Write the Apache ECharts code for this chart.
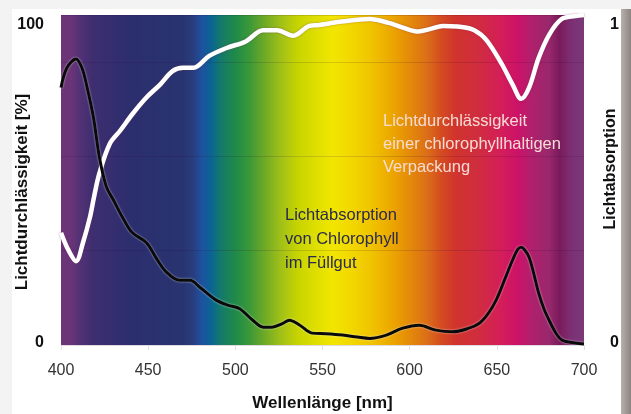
<!DOCTYPE html>
<html>
<head>
<meta charset="utf-8">
<script src="https://cdn.jsdelivr.net/npm/echarts@6/dist/echarts.min.js"></script>
<style>
  html, body { margin: 0; padding: 0; background: #f3f3f3; }
  #chart { width: 631px; height: 414px; }
</style>
</head>
<body>
<div id="chart"></div>
<script>
// Lichtdurchlässigkeit der Verpackung [%]
const transWl = [400, 404, 408.6, 412.6, 416.6, 419, 422, 428, 434, 441, 449, 457, 464, 470, 476, 485, 495, 506, 516, 524, 533, 542.5, 548, 561, 577, 588, 597, 605, 612, 619, 634, 641, 646, 653, 659, 664, 668.5, 674, 680, 687, 695, 700]
const transVal = [34, 29, 25.4, 31, 38.7, 45, 52, 61, 65, 70, 75, 79, 83, 84, 84, 87.6, 90, 92, 95.4, 95.4, 93.7, 96.7, 97, 98, 98.8, 97.6, 96, 95, 95.8, 96.7, 96, 94, 91, 85, 79, 74.6, 78, 87, 94, 98.7, 99.7, 100]

// Lichtabsorption von Chlorophyll (0..1)
const absWl = [400, 403.4, 408.6, 412, 415, 418.6, 422, 426, 430, 436, 441, 449, 455, 460.6, 468, 474, 479.6, 489, 496, 502.5, 510, 516, 521, 527, 531, 537, 544, 552, 561.5, 570, 577, 586.6, 596, 605.5, 615, 624.5, 634, 640, 645, 649.6, 655, 659, 662, 664, 666, 668.5, 671, 674, 677, 680, 684, 687.4, 695, 700]
const absVal = [0.78, 0.84, 0.867, 0.84, 0.78, 0.69, 0.57, 0.48, 0.44, 0.38, 0.34, 0.31, 0.26, 0.22, 0.196, 0.196, 0.175, 0.136, 0.12, 0.11, 0.075, 0.054, 0.054, 0.065, 0.075, 0.06, 0.036, 0.034, 0.03, 0.024, 0.02, 0.03, 0.051, 0.06, 0.045, 0.04, 0.051, 0.066, 0.095, 0.136, 0.205, 0.257, 0.29, 0.296, 0.288, 0.266, 0.22, 0.157, 0.11, 0.075, 0.035, 0.015, 0.006, 0.003]

const xTicks = [400, 450, 500, 550, 600, 650, 700]

// spectrum behind the plot
const specWl = [400, 406, 410, 418, 440, 470, 476, 481, 486, 492, 500, 508, 516, 526, 536, 546, 556, 566, 578, 590, 600, 610, 618, 626, 640, 652, 662, 670, 680, 686, 692, 700]
const specColor = ['#6e3478', '#6a3478', '#553276', '#3e2e70', '#2c2e6e', '#283470', '#283e80', '#1e52a0', '#0a6494', '#147a6a', '#208a48', '#3a9838', '#6aa828', '#a0c018', '#c8d400', '#dede00', '#f2e600', '#f2d800', '#f0c400', '#eca600', '#e48a08', '#dc6e18', '#d44c20', '#d0342c', '#d02c40', '#d41e58', '#cc1268', '#b0206c', '#98286c', '#7a1a5c', '#7c2e72', '#7a3a7a']

const zip = (xs, ys) => xs.map((x, i) => [x, ys[i]])
const spectrum = new echarts.graphic.LinearGradient(0, 0, 1, 0,
  specWl.map((w, i) => ({ offset: (w - 400) / 300, color: specColor[i] })))

const font = 'Liberation Sans, Arial, sans-serif'
// top label sits a bit below the plot edge, bottom one a bit above
const edgeRich = {
  top: { fontSize: 16, fontWeight: 'bold', color: '#111', padding: [20, 0, 0, 0] },
  bot: { fontSize: 16, fontWeight: 'bold', color: '#111', padding: [0, 0, 5, 0] },
}
const edgeLabel = max => v => (v === max ? `{top|${v}}` : `{bot|${v}}`)

const chart = echarts.init(document.getElementById('chart'))

chart.setOption({
  backgroundColor: 'transparent',
  animation: false,
  textStyle: { fontFamily: font },
  graphic: [
    { type: 'rect', z: -10, shape: { x: 12, y: 9, width: 609, height: 405 }, style: { fill: '#ffffff' } },
    {
      type: 'rect', z: -10, shape: { x: 621, y: 9, width: 10, height: 405 },
      style: { fill: new echarts.graphic.LinearGradient(0, 0, 1, 0, [{ offset: 0, color: '#b8b0ac' }, { offset: 1, color: '#8c8480' }]) },
    },
    {
      type: 'text', left: 383, top: 110, z: 10,
      style: { text: 'Lichtdurchlässigkeit\neiner chlorophyllhaltigen\nVerpackung', fill: '#f8dcd4', font: '16.5px ' + font, lineHeight: 23 },
    },
    {
      type: 'text', left: 285, top: 203, z: 10,
      style: { text: 'Lichtabsorption\nvon Chlorophyll\nim Füllgut', fill: '#2a2a4c', font: '16.5px ' + font, lineHeight: 24 },
    },
  ],
  grid: {
    left: 61, right: 47, top: 15, bottom: 69, containLabel: false, outerBoundsMode: 'none',
    show: true, backgroundColor: spectrum, borderWidth: 0,
  },
  xAxis: {
    type: 'value', min: 400, max: 700, interval: 50,
    name: 'Wellenlänge [nm]', nameLocation: 'middle', nameGap: 50,
    nameTextStyle: { fontSize: 17, fontWeight: 'bold', color: '#111' },
    axisLine: { show: false },
    axisTick: { show: true, length: 5, lineStyle: { color: '#e2e2e2' } },
    axisLabel: { fontSize: 16, color: '#333', margin: 18, customValues: xTicks },
    splitLine: { show: false },
  },
  yAxis: [
    {
      type: 'value', min: 0, max: 100, interval: 100, position: 'left',
      name: 'Lichtdurchlässigkeit [%]', nameLocation: 'middle', nameGap: 30, nameRotate: 90, nameMoveOverlap: false,
      nameTextStyle: { fontSize: 17, fontWeight: 'bold', color: '#111', padding: [0, 24, 0, 0] },
      axisLine: { show: false }, axisTick: { show: false },
      axisLabel: { margin: 17, formatter: edgeLabel(100), rich: edgeRich },
      splitLine: { show: false },
    },
    {
      type: 'value', min: 0, max: 1, interval: 1, position: 'right',
      name: 'Lichtabsorption', nameLocation: 'middle', nameGap: 19, nameRotate: 90, nameMoveOverlap: false,
      nameTextStyle: { fontSize: 16, fontWeight: 'bold', color: '#111', padding: [0, 0, 0, 22] },
      axisLine: { show: false }, axisTick: { show: false },
      axisLabel: { margin: 26, formatter: edgeLabel(1), rich: edgeRich },
      splitLine: { show: false },
    },
    {
      // faint helper grid lines seen in the original
      type: 'value', min: 0, max: 3.5, interval: 1, show: true,
      axisLine: { show: false }, axisTick: { show: false }, axisLabel: { show: false },
      splitLine: { show: true, lineStyle: { color: 'rgba(40,0,40,0.14)', width: 1 } },
    },
  ],
  series: [
    {
      name: 'Lichtdurchlässigkeit', type: 'line', yAxisIndex: 0, data: zip(transWl, transVal),
      smooth: 0.35, symbol: 'none', z: 3,
      lineStyle: { color: '#ffffff', width: 4.5, shadowColor: 'rgba(120,40,80,0.5)', shadowBlur: 2 },
    },
    {
      name: 'Lichtabsorption', type: 'line', yAxisIndex: 1, data: zip(absWl, absVal),
      smooth: 0.35, symbol: 'none', z: 4,
      lineStyle: { color: '#0a0a0a', width: 3, shadowColor: 'rgba(255,255,255,0.7)', shadowBlur: 2 },
    },
  ],
})
</script>
</body>
</html>
